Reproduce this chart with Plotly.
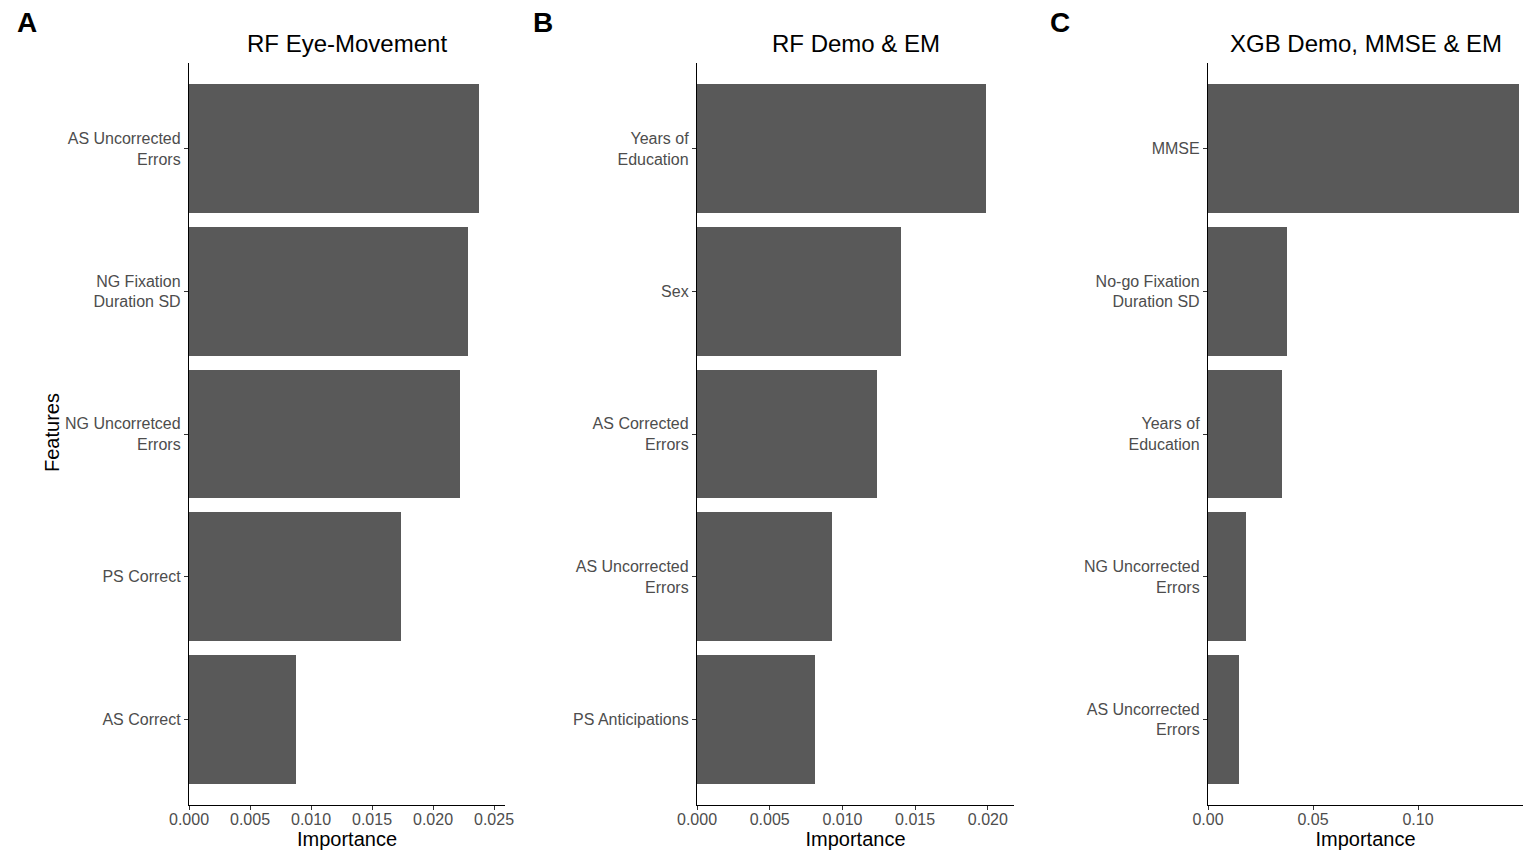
import plotly.graph_objects as go

# panel A: RF eye-movement
feat_a = ["AS Uncorrected<br>Errors", "NG Fixation<br>Duration SD", "NG Uncorretced<br>Errors",
          "PS Correct", "AS Correct"]
imp_a = [0.0238, 0.0229, 0.0222, 0.0174, 0.0088]

# panel B: RF demo & EM
feat_b = ["Years of<br>Education", "Sex", "AS Corrected<br>Errors",
          "AS Uncorrected<br>Errors", "PS Anticipations"]
imp_b = [0.0199, 0.0140, 0.0124, 0.0093, 0.0081]

# panel C: XGB demo, MMSE & EM
feat_c = ["MMSE", "No-go Fixation<br>Duration SD", "Years of<br>Education",
          "NG Uncorrected<br>Errors", "AS Uncorrected<br>Errors"]
imp_c = [0.148, 0.0377, 0.0353, 0.0181, 0.0148]

ticks_a = [0.0, 0.005, 0.010, 0.015, 0.020, 0.025]
ticks_b = [0.0, 0.005, 0.010, 0.015, 0.020]
ticks_c = [0.0, 0.05, 0.10]

titles = ["RF Eye-Movement", "RF Demo & EM", "XGB Demo, MMSE & EM"]
letters = ["A", "B", "C"]

BAR = "#595959"
TICK = "#4D4D4D"
FONT = "Liberation Sans, Arial, sans-serif"
W, H = 1536, 862
OFF = 8  # page body margin


def px(x):
    return (x - OFF) / W


def py(y):
    return 1 - (y - OFF) / H


fig = go.Figure()

panels = [
    (feat_a, imp_a, ticks_a, "%.3f", 0.0259, [px(189), px(505)]),
    (feat_b, imp_b, ticks_b, "%.3f", 0.0218, [px(697), px(1014)]),
    (feat_c, imp_c, ticks_c, "%.2f", 0.150, [px(1208), px(1523)]),
]
ydom = [py(805), py(63)]

for i, (feats, vals, ticks, fmt, xmax, xdom) in enumerate(panels):
    n = i + 1
    xa = "x" if n == 1 else f"x{n}"
    ya = "y" if n == 1 else f"y{n}"
    fig.add_trace(go.Bar(
        x=vals, y=list(range(len(feats))), orientation="h",
        marker=dict(color=BAR, line=dict(width=0)), width=0.9,
        xaxis=xa, yaxis=ya, showlegend=False, hoverinfo="x",
    ))
    axis_common = dict(showline=True, linecolor="black", linewidth=1.3,
                       ticks="outside", ticklen=4, tickcolor="#333333",
                       showgrid=False, zeroline=False, automargin=False)
    fig.layout[f"xaxis{'' if n == 1 else n}"] = dict(
        domain=xdom, anchor=ya, range=[0, xmax],
        tickvals=ticks, ticktext=[fmt % t for t in ticks],
        tickfont=dict(size=16, color=TICK, family=FONT),
        ticklabelstandoff=-4,
        title=dict(text="Importance", font=dict(size=20, color="black", family=FONT), standoff=0),
        **axis_common)
    fig.layout[f"yaxis{'' if n == 1 else n}"] = dict(
        domain=ydom, anchor=xa, range=[len(feats) - 0.4, -0.6],
        tickvals=list(range(len(feats))), ticktext=feats,
        tickfont=dict(size=16, color=TICK, family=FONT),
        **axis_common)
    fig.add_annotation(text=titles[i], xref="paper", yref="paper",
                       x=(xdom[0] + xdom[1]) / 2, y=py(43),
                       showarrow=False, font=dict(size=24, color="black", family=FONT),
                       xanchor="center", yanchor="middle")

letter_x = [27, 543, 1060]
for lx, lt in zip(letter_x, letters):
    fig.add_annotation(text=f"<b>{lt}</b>", xref="paper", yref="paper",
                       x=px(lx), y=py(22), showarrow=False,
                       font=dict(size=28, color="black", family=FONT),
                       xanchor="center", yanchor="middle")

fig.add_annotation(text="Features", xref="paper", yref="paper",
                   x=px(52), y=py(433), textangle=-90, showarrow=False,
                   font=dict(size=20, color="black", family=FONT),
                   xanchor="center", yanchor="middle")

fig.update_layout(
    width=W, height=H,
    paper_bgcolor="white", plot_bgcolor="white",
    margin=dict(l=0, r=0, t=0, b=0, autoexpand=False),
    font=dict(family=FONT),
    bargap=0,
)

fig.write_html("out.html")
